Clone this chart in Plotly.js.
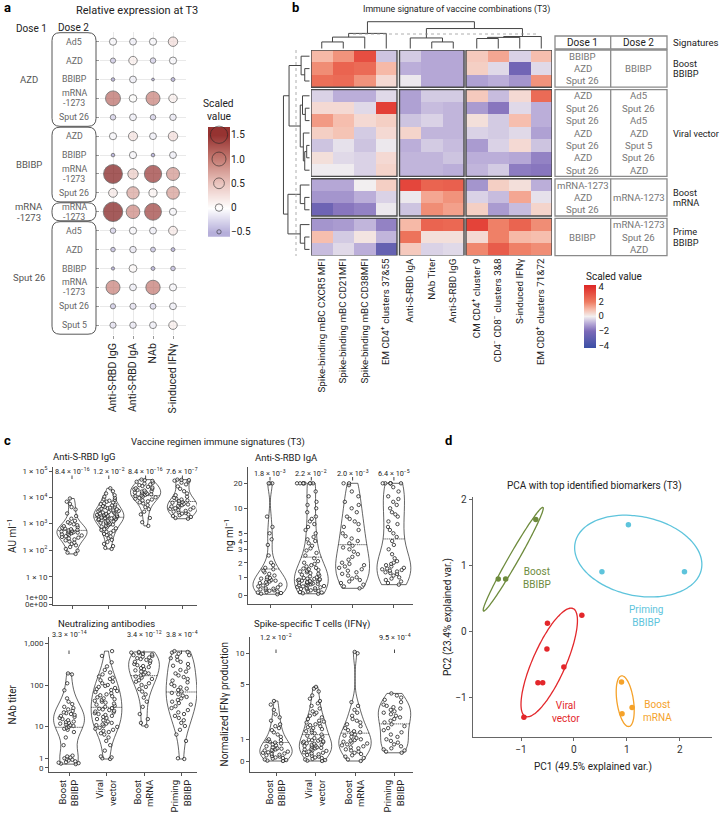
<!DOCTYPE html>
<html>
<head>
<meta charset="utf-8">
<script src="https://cdn.plot.ly/plotly-3.0.1.min.js"></script>
<style>body{margin:0;background:#fff}#fig{width:721px;height:814px}</style>
</head>
<body>
<div id="fig"></div>
<script>
var W = 721, H = 814;
var FONT = 'Roboto, Arial, sans-serif';

// ---------- panel a data ----------
var dotCols = ['Anti-S-RBD IgG', 'Anti-S-RBD IgA', 'NAb', 'S-induced IFNγ'];
var dose1Names = ['AZD', 'BBIBP', 'mRNA<br>-1273', 'Sput 26'];
var dose1Counts = [5, 4, 1, 6];
var dose2Names = ['Ad5', 'AZD', 'BBIBP', 'mRNA<br>-1273', 'Sput 26',
  'AZD', 'BBIBP', 'mRNA<br>-1273', 'Sput 26',
  'mRNA<br>-1273',
  'Ad5', 'AZD', 'BBIBP', 'mRNA<br>-1273', 'Sput 26', 'Sput 5'];
var dotVals = [
  [-0.05, -0.1, -0.05, 0.3],
  [-0.35, 0.15, -0.3, -0.05],
  [-0.6, -0.1, -0.75, -0.55],
  [1.15, 0.02, 1.0, 0.15],
  [-0.3, -0.1, -0.3, -0.15],
  [-0.05, 0.25, -0.1, 0.3],
  [-0.6, -0.05, -0.6, -0.1],
  [1.75, 0.45, 1.5, 0.85],
  [0.2, 0.75, 0.1, 0.8],
  [1.85, 0.95, 1.45, -0.05],
  [-0.3, -0.05, -0.1, 0.2],
  [-0.45, -0.15, -0.4, -0.55],
  [-0.65, 0.05, -0.55, -0.45],
  [1.0, -0.1, 1.05, -0.05],
  [-0.35, -0.2, -0.25, -0.1],
  [-0.2, -0.15, -0.1, 0.15]
];
var dotLegendVals = [1.5, 1.0, 0.5, 0, -0.5];
var dotLegendText = ['1.5', '1.0', '0.5', '0', '−0.5'];

// ---------- panel b data ----------
var heatCols = ['Spike-binding mBC CXCR5 MFI', 'Spike-binding mBC CD21MFI', 'Spike-binding mBC CD38MFI',
  'EM CD4<sup>+</sup> clusters 37&amp;55', 'Anti-S-RBD IgA', 'NAb Titer', 'Anti-S-RBD IgG',
  'CM CD4<sup>+</sup> cluster 9', 'CD4<sup>−</sup> CD8<sup>−</sup> clusters 3&amp;8', 'S-induced IFNγ',
  'EM CD8<sup>+</sup> clusters 71&amp;72'];
var heatColGroups = [4, 3, 4];
var heatRowGroups = [3, 7, 3, 3];
var heatVals = [
  [1.0, 1.6, 3.2, -0.6, -0.5, -1.0, -1.0, 0.7, 1.3, -0.4, 0.9],
  [1.7, 2.6, 2.4, 1.0, -0.9, -1.0, -1.0, 0.6, -0.3, -2.4, -0.3],
  [2.3, 2.4, 1.6, 0.4, -0.1, -1.0, -1.0, -1.1, -0.9, -1.3, 1.6],
  [-0.4, -0.9, -0.9, -0.3, -1.1, -0.5, -0.5, 0.7, -0.7, 0.4, 2.4],
  [0.4, 0.4, -0.3, 3.6, -1.1, -0.7, -0.8, -1.2, -1.8, -0.3, -0.9],
  [1.5, 0.9, 0.4, 0.6, -0.6, -0.4, -0.8, 0.3, -0.5, 0.9, -0.9],
  [0.6, 0.8, -0.5, 0.4, 0.5, -0.8, -0.8, -0.4, -0.5, -0.3, -1.1],
  [-0.6, -0.2, -0.6, -0.1, -0.9, -0.5, -0.7, -1.2, -0.4, 0.4, -0.6],
  [0.3, -0.3, -0.4, 0.4, -0.8, -0.8, -0.6, -0.9, -0.9, -1.0, -1.6],
  [-0.05, -0.05, -0.4, 0.5, -0.8, -0.8, -0.9, -0.8, -0.5, -1.7, -1.8],
  [-1.0, -1.0, 0.0, 0.6, 3.4, 2.6, 2.7, -1.3, 0.6, 0.3, -0.9],
  [-1.3, -1.3, -0.9, -0.4, -0.1, 1.3, 1.6, -0.4, -0.7, 1.3, -0.2],
  [-2.5, -1.8, -1.6, -0.1, -0.6, 1.7, 1.4, 0.6, -1.2, -0.7, 0.5],
  [-1.3, -1.2, -0.8, -1.6, 1.0, 2.6, 2.5, 3.5, 1.9, 2.6, 1.7],
  [0.9, -0.5, 0.2, -0.8, 2.2, 0.3, 0.3, 0.4, 1.9, 1.0, 0.9],
  [-0.7, -0.3, -0.9, -2.8, 0.7, -0.4, -0.3, 1.8, 2.8, 1.9, 1.7]
];
// dendrogram merges: [nodeA, nodeB, height]; leaves first, merges numbered after
var colTree = [[0, 1, 0.23], [11, 2, 0.4], [12, 3, 0.53], [5, 6, 0.23], [4, 14, 0.37],
  [7, 8, 0.35], [16, 9, 0.39], [17, 10, 0.42], [15, 18, 0.7], [13, 19, 0.94]];
var rowTree = [[1, 2, 0.17], [0, 16, 0.3],
  [7, 8, 0.1], [18, 9, 0.17], [6, 19, 0.22], [4, 5, 0.15], [3, 21, 0.25], [22, 20, 0.33],
  [11, 12, 0.17], [10, 24, 0.33], [14, 15, 0.17], [13, 26, 0.33],
  [17, 23, 0.73], [25, 27, 0.77], [28, 29, 0.93]];
var tableDose1 = [['BBIBP', 'AZD', 'Sput 26'],
  ['AZD', 'Sput 26', 'Sput 26', 'AZD', 'Sput 26', 'AZD', 'Sput 26'],
  ['mRNA-1273', 'AZD', 'Sput 26'], ['BBIBP']];
var tableDose2 = [['BBIBP'], ['Ad5', 'Sput 26', 'Ad5', 'AZD', 'Sput 5', 'Sput 26', 'AZD'],
  ['mRNA-1273'], ['mRNA-1273', 'Sput 26', 'AZD']];
var signatures = ['Boost<br>BBIBP', 'Viral vector', 'Boost<br>mRNA', 'Prime<br>BBIBP'];

// ---------- panel c data ----------
var regimens = ['Boost<br>BBIBP', 'Viral<br>vector', 'Boost<br>mRNA', 'Priming<br>BBIBP'];

var iggBoostBBIBP = [9000, 6800, 5600, 4200, 3400, 2400, 1900, 1500, 1250, 1100, 1000, 920, 850, 780, 720, 680, 640, 600, 570, 545, 520, 500, 480, 465, 450, 430, 410, 390, 370, 350, 330, 310, 290, 270, 250, 230, 210, 190, 170, 150, 130, 110, 95, 80, 72];
var iggViral = [22000, 17000, 14000, 12000, 10500, 9500, 8600, 8000, 7400, 6800, 6300, 5900, 5500, 5200, 4900, 4600, 4400, 4200, 4000, 3800, 3600, 3450, 3300, 3150, 3000, 2900, 2800, 2700, 2600, 2500, 2400, 2300, 2200, 2150, 2100, 2000, 1950, 1900, 1850, 1800, 1750, 1700, 1650, 1600, 1550, 1500, 1450, 1400, 1350, 1300, 1250, 1200, 1150, 1100, 1050, 1000, 950, 900, 850, 800, 750, 700, 650, 600, 560, 520, 480, 440, 400, 360, 320, 280, 240, 200, 170, 140, 120, 110];
var iggBoostMRNA = [47000, 45000, 42000, 39000, 36000, 33000, 31000, 29000, 27000, 25000, 23500, 22000, 21000, 20000, 19000, 18000, 17200, 16500, 15800, 15000, 14300, 13600, 13000, 12400, 11800, 11200, 10600, 10000, 9400, 8800, 8200, 7600, 7000, 6400, 5800, 5000, 4200, 3500, 2800, 2200, 1600, 1100, 800];
var iggPriming = [47000, 46000, 45000, 43000, 40000, 36000, 31000, 26000, 21000, 17000, 14000, 12000, 10500, 9500, 8800, 8200, 7600, 7100, 6600, 6200, 5900, 5600, 5300, 5000, 4700, 4400, 4200, 4000, 3800, 3600, 3400, 3200, 3000, 2800, 2650, 2500, 2350, 2200, 2050, 1900, 1750, 1600, 1500];
var iggP = ['8.4 × 10<sup>−16</sup>', '1.2 × 10<sup>−2</sup>', '8.4 × 10<sup>−16</sup>', '7.6 × 10<sup>−7</sup>'];

var igaBoostBBIBP = [20, 20, 20, 8, 6, 5, 4.2, 3.5, 2.5, 2.0, 1.8, 1.6, 1.5, 1.4, 1.3, 1.2, 1.1, 1.0, 0.95, 0.9, 0.85, 0.8, 0.75, 0.7, 0.65, 0.6, 0.55, 0.5, 0.45, 0.4, 0.35, 0.3, 0.28, 0.25, 0.22, 0.2, 0.18, 0.15, 0.12, 0.1, 0.08, 0.05, 0.03];
var igaViral = [20, 20, 20, 20, 20, 20, 20, 20, 16, 14, 12, 11, 10, 9, 8, 7.5, 7, 6.5, 6, 5.5, 5, 4.5, 4.2, 4, 3.7, 3.4, 3.1, 2.9, 2.7, 2.5, 2.3, 2.1, 2.0, 1.9, 1.8, 1.7, 1.6, 1.55, 1.5, 1.45, 1.4, 1.35, 1.3, 1.25, 1.2, 1.15, 1.1, 1.05, 1.0, 0.95, 0.9, 0.88, 0.85, 0.82, 0.8, 0.77, 0.75, 0.72, 0.7, 0.67, 0.65, 0.62, 0.6, 0.57, 0.55, 0.52, 0.5, 0.47, 0.45, 0.42, 0.4, 0.37, 0.35, 0.32, 0.3, 0.27, 0.25, 0.22, 0.2, 0.17, 0.15, 0.12, 0.1, 0.07, 0.05];
var igaBoostMRNA = [20, 20, 19, 16, 14, 12, 11, 10, 9, 8, 7.5, 7, 6.5, 6, 5.5, 5, 4.6, 4.3, 4, 3.7, 3.4, 3.2, 3.0, 2.8, 2.6, 2.4, 2.2, 2.0, 1.9, 1.8, 1.7, 1.6, 1.5, 1.4, 1.3, 1.2, 1.1, 1.0, 0.9, 0.8, 0.7, 0.6, 0.5, 0.4, 0.3];
var igaPriming = [20, 20, 20, 20, 20, 20, 18, 16, 14, 13, 12, 11, 10, 9, 8.5, 8, 7, 6.5, 6, 5.5, 5, 4.5, 4, 3.5, 3, 2.6, 2.3, 2.1, 2.0, 1.9, 1.8, 1.7, 1.6, 1.55, 1.5, 1.45, 1.4, 1.35, 1.3, 1.25, 1.2, 1.1, 1.0, 0.9, 0.8, 0.7, 0.6, 0.5];
var igaP = ['1.8 × 10<sup>−3</sup>', '2.2 × 10<sup>−2</sup>', '2.0 × 10<sup>−3</sup>', '6.4 × 10<sup>−5</sup>'];

var nabBoostBBIBP = [190, 180, 110, 75, 48, 40, 35, 30, 28, 26, 24, 22, 21, 20, 19, 18, 17, 16, 15, 14, 13, 12.5, 12, 11.5, 11, 10.5, 10, 9.5, 9, 8.5, 8, 7, 5, 3, 1.3, 1.2, 1.1, 1.0, 0.9, 0.8, 0.7, 0.6, 0.5, 0.45, 0.4, 0.35, 0.3];
var nabViral = [650, 500, 350, 280, 230, 200, 180, 160, 150, 140, 130, 120, 110, 100, 95, 90, 85, 80, 76, 72, 68, 64, 60, 57, 54, 51, 48, 46, 44, 42, 40, 38, 36, 34, 32, 30, 28, 27, 26, 25, 24, 23, 22, 21, 20, 19, 18, 17, 16, 15, 14, 13, 12, 11.5, 11, 10.5, 10, 9.5, 9, 8.5, 8, 7.5, 7, 6.5, 6, 5, 4, 3, 2, 1.2, 1.1, 1.0, 0.9];
var nabBoostMRNA = [620, 600, 580, 560, 540, 520, 500, 480, 460, 440, 420, 400, 380, 360, 340, 320, 300, 285, 270, 255, 240, 225, 210, 200, 190, 180, 170, 160, 150, 140, 130, 120, 110, 100, 90, 80, 70, 60, 50, 40, 30, 20, 15, 12, 10];
var nabPriming = [650, 620, 600, 560, 520, 480, 440, 400, 360, 320, 290, 260, 230, 210, 190, 170, 155, 140, 128, 116, 105, 95, 88, 82, 76, 70, 65, 60, 56, 52, 48, 44, 40, 37, 34, 31, 28, 25, 22, 20, 18, 16, 14, 12, 10, 8, 6, 4, 1, 0.9];
var nabP = ['3.3 × 10<sup>−14</sup>', null, '3.4 × 10<sup>−12</sup>', '3.8 × 10<sup>−4</sup>'];

var ifnBoostBBIBP = [3.3, 3.0, 2.6, 2.3, 2.1, 1.9, 1.7, 1.6, 1.5, 1.4, 1.3, 1.2, 1.1, 1.0, 0.95, 0.9, 0.85, 0.8, 0.75, 0.7, 0.65, 0.6, 0.55, 0.5, 0.48, 0.45, 0.42, 0.4, 0.37, 0.35, 0.32, 0.3, 0.27, 0.25, 0.22, 0.2, 0.17, 0.15, 0.12, 0.1, 0.08, 0.05, 0.03, 0.01, 0];
var ifnViral = [4.7, 4.5, 4.2, 3.8, 3.5, 3.3, 3.1, 2.9, 2.7, 2.5, 2.4, 2.3, 2.2, 2.1, 2.0, 1.9, 1.85, 1.8, 1.75, 1.7, 1.65, 1.6, 1.55, 1.5, 1.45, 1.4, 1.35, 1.3, 1.25, 1.2, 1.15, 1.1, 1.05, 1.0, 0.97, 0.94, 0.91, 0.88, 0.85, 0.82, 0.79, 0.76, 0.73, 0.7, 0.67, 0.64, 0.61, 0.58, 0.55, 0.52, 0.5, 0.47, 0.44, 0.41, 0.38, 0.35, 0.32, 0.3, 0.27, 0.24, 0.21, 0.18, 0.15, 0.12, 0.1, 0.07, 0.05, 0.03, 0.01, 0];
var ifnBoostMRNA = [10.3, 10.0, 3.2, 2.9, 2.6, 2.4, 2.2, 2.0, 1.9, 1.8, 1.7, 1.6, 1.5, 1.4, 1.35, 1.3, 1.25, 1.2, 1.15, 1.1, 1.05, 1.0, 0.95, 0.9, 0.85, 0.8, 0.75, 0.7, 0.65, 0.6, 0.55, 0.5, 0.45, 0.4, 0.35, 0.3, 0.25, 0.2, 0.15, 0.1, 0.05, 0];
var ifnPriming = [4.0, 3.8, 3.6, 3.4, 3.2, 3.0, 2.9, 2.8, 2.7, 2.6, 2.5, 2.4, 2.3, 2.2, 2.1, 2.0, 1.9, 1.8, 1.7, 1.6, 1.5, 1.4, 1.3, 1.2, 1.1, 1.0, 0.9, 0.8, 0.7, 0.6, 0.5, 0.45, 0.4, 0.35, 0.3];
var ifnP = ['1.2 × 10<sup>−2</sup>', null, null, '9.5 × 10<sup>−4</sup>'];

// ---------- panel d data ----------
var pcaNames = ['Boost<br>BBIBP', 'Priming<br>BBIBP', 'Viral<br>vector', 'Boost<br>mRNA'];
var pcaColors = ['#6e8b3d', '#5ec4dc', '#e3272b', '#f5a22a'];
var pc1BoostBBIBP = [-1.43, -1.29, -0.72];
var pc2BoostBBIBP = [0.79, 0.79, 1.69];
var pc1Priming = [1.03, 0.53, 2.09];
var pc2Priming = [1.61, 0.90, 0.90];
var pc1Viral = [-0.50, 0.15, -0.51, -0.19, -0.68, -0.59, -0.945];
var pc2Viral = [0.12, 0.24, -0.27, -0.54, -0.78, -0.78, -1.30];
var pc1BoostMRNA = [0.90, 0.91, 1.10];
var pc2BoostMRNA = [-0.77, -1.25, -1.155];

// ================= helpers =================
function fx(p) { return p / W; }
function fy(p) { return 1 - p / H; }
var shapes = [], annotations = [], traces = [];

function A(text, x, y, o) {
  o = o || {};
  var a = {
    text: text, x: fx(x), y: fy(y), xref: 'paper', yref: 'paper', showarrow: false,
    xanchor: o.xanchor || 'center', yanchor: o.yanchor || 'middle',
    font: { family: FONT, size: o.size || 9, color: o.color || '#222' }
  };
  if (o.textangle !== undefined) a.textangle = o.textangle;
  annotations.push(a);
}
// multi-line label with tight line spacing
function A2(text, x, y, gap, o) {
  var parts = text.split('<br>');
  parts.forEach(function (t, k) { A(t, x, y + (k - (parts.length - 1) / 2) * gap, o); });
}
function L(x0, y0, x1, y1, color, width, dash) {
  shapes.push({ type: 'line', xref: 'paper', yref: 'paper', x0: fx(x0), y0: fy(y0), x1: fx(x1), y1: fy(y1),
    line: { color: color || '#444', width: width || 1, dash: dash || 'solid' } });
}
function roundBox(x0, y0, x1, y1, r) {
  var p = function (x, y) { return fx(x) + ',' + fy(y); };
  var d = 'M' + p(x0 + r, y0) + ' L' + p(x1 - r, y0) + ' Q' + p(x1, y0) + ' ' + p(x1, y0 + r) +
    ' L' + p(x1, y1 - r) + ' Q' + p(x1, y1) + ' ' + p(x1 - r, y1) +
    ' L' + p(x0 + r, y1) + ' Q' + p(x0, y1) + ' ' + p(x0, y1 - r) +
    ' L' + p(x0, y0 + r) + ' Q' + p(x0, y0) + ' ' + p(x0 + r, y0) + ' Z';
  shapes.push({ type: 'path', xref: 'paper', yref: 'paper', path: d, line: { color: '#444', width: 0.9 } });
}

var layout = {
  width: W, height: H, margin: { l: 0, r: 0, t: 0, b: 0, autoexpand: false },
  paper_bgcolor: '#fff', plot_bgcolor: 'rgba(0,0,0,0)', showlegend: false,
  font: { family: FONT, size: 9, color: '#222' }, violinmode: 'overlay'
};

// panel letters & titles
A('<b>a</b>', 2, 8, { xanchor: 'left', size: 13, color: '#000' });
A('<b>b</b>', 290, 8, { xanchor: 'left', size: 13, color: '#000' });
A('<b>c</b>', 2, 441, { xanchor: 'left', size: 13, color: '#000' });
A('<b>d</b>', 443, 441, { xanchor: 'left', size: 13, color: '#000' });
A('Relative expression at T3', 137, 10, { size: 11 });
A('Immune signature of vaccine combinations (T3)', 456, 9, { size: 8.8 });
A('Vaccine regimen immune signatures (T3)', 218, 442, { size: 9.5 });
A('PCA with top identified biomarkers (T3)', 594, 486, { size: 10 });

// ================= panel a =================
var dotScale = [[0, '#a79fd3'], [0.265, '#ffffff'], [0.49, '#e9c3bd'], [0.71, '#c57b73'], [0.93, '#963331'], [1, '#7e1716']];
function dotSize(v) { return Math.max(2.8, 7.5 + 6.5 * v); }
function rowPx(i) { return 41.7 + 18.9 * i; }

var dX = [], dY = [], dV = [];
dotVals.forEach(function (row, i) {
  row.forEach(function (v, j) { dX.push(j + 1); dY.push(i); dV.push(v); });
});
traces.push({
  type: 'scatter', mode: 'markers', x: dX, y: dY, xaxis: 'x', yaxis: 'y', cliponaxis: false, hoverinfo: 'skip',
  marker: {
    size: dV.map(dotSize), color: dV, cmin: -0.6, cmax: 1.66, colorscale: dotScale,
    line: { color: '#333', width: 0.8 }, showscale: false
  }
});
// colour bar drawn as a smooth heatmap so the size key can sit on top of it
traces.push({
  type: 'heatmap', z: dotLegendVals.map(function (v) { return [v, v]; }), y: dotLegendVals, x: [0, 1],
  xaxis: 'x8', yaxis: 'y8', zsmooth: 'best', zmin: -0.6, zmax: 1.66, colorscale: dotScale,
  showscale: false, hoverinfo: 'skip'
});
traces.push({
  type: 'scatter', mode: 'markers', x: dotLegendVals.map(function () { return 0.5; }), y: dotLegendVals,
  xaxis: 'x8', yaxis: 'y8', cliponaxis: false, hoverinfo: 'skip',
  marker: { size: dotLegendVals.map(dotSize), color: 'rgba(0,0,0,0)', line: { color: '#222', width: 0.8 } }
});
layout.xaxis = {
  domain: [fx(100), fx(186)], range: [0.35, 4.65], anchor: 'y', tickvals: [1, 2, 3, 4], ticktext: dotCols,
  tickangle: -90, ticks: 'outside', ticklen: 3, tickcolor: '#999', tickfont: { size: 10.5, color: '#222' },
  showgrid: true, gridcolor: '#e9e9e9', zeroline: false, showline: false
};
layout.yaxis = {
  domain: [fy(335), fy(32)], range: [15.52, -0.513], anchor: 'x',
  tickvals: dose2Names.map(function (n, i) { return i; }), showticklabels: false,
  ticks: 'outside', ticklen: 3, tickcolor: '#999', showgrid: true, gridcolor: '#e9e9e9', zeroline: false
};
layout.xaxis8 = { domain: [fx(208), fx(230)], range: [0, 1], anchor: 'y8', visible: false };
layout.yaxis8 = {
  domain: [fy(236.7), fy(127)], range: [-0.6, 1.66], anchor: 'x8', side: 'right',
  tickvals: dotLegendVals, ticktext: dotLegendText, ticks: '', showline: false, showgrid: false, zeroline: false,
  tickfont: { size: 10, color: '#222' }
};
A2('Scaled<br>value', 219, 110, 13, { size: 10.2 });
A('Dose 1', 31, 29, { size: 10, color: '#222' });
A('Dose 2', 73, 27, { size: 10, color: '#222' });
dose2Names.forEach(function (n, i) { A2(n, 74, rowPx(i), 10, { size: 8.8, color: '#666' }); });
var r0 = 0;
dose1Names.forEach(function (n, g) {
  var r1 = r0 + dose1Counts[g] - 1;
  roundBox(52, rowPx(r0) - 9, 96, rowPx(r1) + 9, 8);
  A2(n, 29, (rowPx(r0) + rowPx(r1)) / 2, 11, { size: 9.5, color: '#555' });
  r0 = r1 + 1;
});

// ================= panel b =================
var heatScale = [[0, '#3b4fa5'], [0.267, '#7c6ab8'], [0.384, '#b5a7d6'], [0.5, '#f2eff0'],
  [0.616, '#f6b9a7'], [0.733, '#ee7a60'], [0.965, '#e0302c'], [1, '#dd2626']];
var colStarts = [311, 399.5, 466], colW = 21.5;
var rowStarts = [50, 89.6, 178.8, 218.4], rowH = 12.4;
var colCenters = [], rowCenters = [];
heatColGroups.forEach(function (n, g) { for (var j = 0; j < n; j++) colCenters.push(colStarts[g] + colW * (j + 0.5)); });
heatRowGroups.forEach(function (n, g) { for (var j = 0; j < n; j++) rowCenters.push(rowStarts[g] + rowH * (j + 0.5)); });

var rOff = 0;
heatRowGroups.forEach(function (nr, rg) {
  var cOff = 0;
  heatColGroups.forEach(function (nc, cg) {
    var z = heatVals.slice(rOff, rOff + nr).map(function (r) { return r.slice(cOff, cOff + nc); });
    var first = (rg === 0 && cg === 0);
    traces.push({
      type: 'heatmap', z: z, x0: colStarts[cg] + colW / 2, dx: colW, y0: rowStarts[rg] + rowH / 2, dy: rowH,
      xaxis: 'x2', yaxis: 'y2', zmin: -4.3, zmax: 4.3, colorscale: heatScale, hoverinfo: 'skip',
      showscale: first,
      colorbar: first ? {
        x: fx(584), xanchor: 'left', y: fy(284.5), yanchor: 'top', len: 62.7, lenmode: 'pixels',
        thickness: 12, outlinewidth: 0, xpad: 0, ypad: 0, ticks: '',
        tickvals: [-4, -2, 0, 2, 4], ticktext: ['−4', '−2', '0', '2', '4'],
        tickfont: { family: FONT, size: 9.5, color: '#222' }
      } : undefined
    });
    shapes.push({ type: 'rect', xref: 'x2', yref: 'y2', x0: colStarts[cg], x1: colStarts[cg] + nc * colW,
      y0: rowStarts[rg], y1: rowStarts[rg] + nr * rowH, line: { color: '#4a4a4a', width: 1.4 } });
    cOff += nc;
  });
  rOff += nr;
});
layout.xaxis2 = {
  domain: [fx(311), fx(552)], range: [311, 552], anchor: 'y2', tickvals: colCenters, ticktext: heatCols,
  tickangle: -90, ticks: '', showgrid: false, zeroline: false, showline: false,
  tickfont: { size: 9.8, color: '#222' }
};
layout.yaxis2 = { domain: [fy(255.6), fy(50)], range: [255.6, 50], anchor: 'x2', visible: false };
A('Scaled value', 584, 277, { xanchor: 'left', size: 10 });

// dendrograms
function treeNodes(merges, leaves) {
  var pos = leaves.slice(), hgt = leaves.map(function () { return 0; });
  merges.forEach(function (m) { pos.push((pos[m[0]] + pos[m[1]]) / 2); hgt.push(m[2]); });
  return { pos: pos, hgt: hgt };
}
var ct = treeNodes(colTree, colCenters);
colTree.forEach(function (m) {
  var yM = 48.5 - m[2] * 28.5;
  [m[0], m[1]].forEach(function (c) {
    shapes.push({ type: 'line', xref: 'x2', yref: 'paper', x0: ct.pos[c], x1: ct.pos[c],
      y0: fy(48.5 - ct.hgt[c] * 28.5), y1: fy(yM), line: { color: '#444', width: 1 } });
  });
  shapes.push({ type: 'line', xref: 'x2', yref: 'paper', x0: ct.pos[m[0]], x1: ct.pos[m[1]],
    y0: fy(yM), y1: fy(yM), line: { color: '#444', width: 1 } });
});
var rt = treeNodes(rowTree, rowCenters);
rowTree.forEach(function (m) {
  var xM = 309.5 - m[2] * 28;
  [m[0], m[1]].forEach(function (c) {
    shapes.push({ type: 'line', xref: 'paper', yref: 'y2', y0: rt.pos[c], y1: rt.pos[c],
      x0: fx(309.5 - rt.hgt[c] * 28), x1: fx(xM), line: { color: '#444', width: 1 } });
  });
  shapes.push({ type: 'line', xref: 'paper', yref: 'y2', y0: rt.pos[m[0]], y1: rt.pos[m[1]],
    x0: fx(xM), x1: fx(xM), line: { color: '#444', width: 1 } });
});
L(353, 34, 537, 34, '#999', 0.8, 'dot');
L(296, 50, 296, 256, '#999', 0.8, 'dot');

// table
var tX0 = 555, tXm = 610.7, tX1 = 667;
shapes.push({ type: 'rect', xref: 'paper', yref: 'paper', x0: fx(tX0), x1: fx(tX1), y0: fy(36), y1: fy(49),
  line: { color: '#8a8a8a', width: 1.3 } });
L(tXm, 36, tXm, 49, '#8a8a8a', 1.3);
A('Dose 1', (tX0 + tXm) / 2, 42.8, { size: 10 });
A('Dose 2', (tXm + tX1) / 2, 42.8, { size: 10 });
A('Signatures', 671, 42.8, { xanchor: 'left', size: 9.6 });
heatRowGroups.forEach(function (nr, g) {
  var y0 = rowStarts[g], y1 = rowStarts[g] + nr * rowH, yc = (y0 + y1) / 2;
  shapes.push({ type: 'rect', xref: 'paper', yref: 'paper', x0: fx(tX0), x1: fx(tX1), y0: fy(y0), y1: fy(y1),
    line: { color: '#8a8a8a', width: 1.3 } });
  L(tXm, y0, tXm, y1, '#8a8a8a', 1.3);
  [[tableDose1[g], (tX0 + tXm) / 2], [tableDose2[g], (tXm + tX1) / 2]].forEach(function (c) {
    var lines = c[0], n = lines.length, step = Math.min(rowH, (y1 - y0) / n);
    lines.forEach(function (t, k) { A(t, c[1], yc + (k - (n - 1) / 2) * step, { size: 9.6, color: '#777' }); });
  });
  A2(signatures[g], 671, yc, 10.5, { xanchor: 'left', size: 9.2 });
});

// ================= panel c =================
function makeScale(vals, pxs, bottom) {
  var us = vals.map(function (v) { return Math.log10(v + 1); });
  return function (v) {
    var u = Math.log10(v + 1), i = 0;
    while (i < us.length - 2 && u > us[i + 1]) i++;
    var t = (u - us[i]) / (us[i + 1] - us[i]);
    return bottom - (pxs[i] + t * (pxs[i + 1] - pxs[i]));
  };
}
var cPanels = [
  { n: 3, groups: [iggBoostBBIBP, iggViral, iggBoostMRNA, iggPriming], p: iggP,
    tickVals: [0, 1, 10, 100, 1e3, 1e4, 1e5], tickPx: [604.4, 597.3, 576.7, 550, 523.3, 497.3, 471],
    tickText: ['0e+00', '1e+00', '1 × 10', '1 × 10<sup>2</sup>', '1 × 10<sup>3</sup>', '1 × 10<sup>4</sup>', '1 × 10<sup>5</sup>'],
    left: 53, right: 197, top: 467, bottom: 605, c0: 72, step: 36.8, pY: 471, tick: [475.5, 479], labels: false,
    title: 'Anti-S-RBD IgG', tX: 51, tY: 456.5, yTitle: 'AU ml<sup>−1</sup>', yX: 12 },
  { n: 4, groups: [igaBoostBBIBP, igaViral, igaBoostMRNA, igaPriming], p: igaP,
    tickVals: [0, 1, 2, 3, 4, 5, 10, 20], tickPx: [595, 577.3, 562.7, 549.3, 541, 533.3, 508.3, 483.3],
    tickText: ['0', '1', '2', '3', '4', '5', '10', '20'],
    left: 248, right: 413, top: 467, bottom: 604, c0: 270, step: 41.3, pY: 472.5, tick: [477, 480.5], labels: false,
    title: 'Anti-S-RBD IgA', tX: 253, tY: 457, yTitle: 'ng ml<sup>−1</sup>', yX: 228 },
  { n: 5, groups: [nabBoostBBIBP, nabViral, nabBoostMRNA, nabPriming], p: nabP,
    tickVals: [0, 1, 10, 100, 1000], tickPx: [767.7, 758.3, 726, 685, 643.3],
    tickText: ['0', '1', '10', '100', '1,000'],
    left: 49, right: 197, top: 637, bottom: 772, c0: 69, step: 37.5, pY: 640.5, tick: [650.5, 654], labels: true,
    title: 'Neutralizing antibodies', tX: 56, tY: 623.5, yTitle: 'NAb titer', yX: 12 },
  { n: 6, groups: [ifnBoostBBIBP, ifnViral, ifnBoostMRNA, ifnPriming], p: ifnP,
    tickVals: [0, 1, 5, 10], tickPx: [761, 739.3, 684.3, 653.3],
    tickText: ['0', '1', '5', '10'],
    left: 250, right: 413, top: 637, bottom: 772, c0: 276, step: 39.5, pY: 643.5, tick: [649.5, 653], labels: true,
    title: 'Spike-specific T cells (IFNγ)', tX: 252, tY: 623.5, yTitle: 'Normalized IFNγ production', yX: 224 }
];
cPanels.forEach(function (c) {
  var sc = makeScale(c.tickVals, c.tickPx, c.bottom);
  var xa = 'x' + c.n, ya = 'y' + c.n;
  c.groups.forEach(function (vals, i) {
    traces.push({
      type: 'violin', x0: i, y: vals.map(sc), xaxis: xa, yaxis: ya, name: 'g' + c.n + '_' + i,
      points: 'all', pointpos: 0, jitter: 0.85, spanmode: 'hard', width: 0.82, scalemode: 'width',
      line: { color: '#222', width: 0.7 }, fillcolor: 'rgba(0,0,0,0)',
      meanline: { visible: true, color: '#222', width: 0.7 }, box: { visible: false },
      marker: { size: 3.4, color: 'rgba(255,255,255,0.6)', line: { color: '#222', width: 0.8 } },
      hoverinfo: 'skip'
    });
    if (c.p[i]) {
      annotations.push({ text: c.p[i], xref: xa, x: i, yref: 'paper', y: fy(c.pY), showarrow: false,
        font: { family: FONT, size: 7.3, color: '#222' } });
      shapes.push({ type: 'line', xref: xa, yref: 'paper', x0: i, x1: i, y0: fy(c.tick[0]), y1: fy(c.tick[1]),
        line: { color: '#333', width: 0.9 } });
    }
  });
  layout['xaxis' + c.n] = {
    domain: [fx(c.left), fx(c.right)], type: 'linear', anchor: ya,
    range: [(c.left - c.c0) / c.step, (c.right - c.c0) / c.step],
    tickvals: [0, 1, 2, 3], ticktext: regimens, showticklabels: c.labels, tickangle: -90,
    ticks: 'outside', ticklen: 3, tickcolor: '#555', showline: true, linecolor: '#555', linewidth: 1,
    showgrid: false, zeroline: false, tickfont: { size: 9.5, color: '#222' }
  };
  layout['yaxis' + c.n] = {
    domain: [fy(c.bottom), fy(c.top)], anchor: xa, range: [0, c.bottom - c.top],
    tickvals: c.tickPx.map(function (p) { return c.bottom - p; }), ticktext: c.tickText,
    ticks: 'outside', ticklen: 3, tickcolor: '#555', showline: true, linecolor: '#555', linewidth: 1,
    showgrid: false, zeroline: false, tickfont: { size: 8, color: '#333' }
  };
  A(c.title, c.tX, c.tY, { xanchor: 'left', size: 9.5 });
  A(c.yTitle, c.yX, (c.top + c.bottom) / 2, { textangle: -90, size: 10 });
});

// ================= panel d =================
var pcaX = [pc1BoostBBIBP, pc1Priming, pc1Viral, pc1BoostMRNA];
var pcaY = [pc2BoostBBIBP, pc2Priming, pc2Viral, pc2BoostMRNA];
var pcaLabelPos = [[-0.7, 0.81], [1.36, 0.23], [-0.14, -1.22], [1.58, -1.2]];
var ellK = Math.sqrt(-2 * Math.log(1 - 0.68));
pcaX.forEach(function (xs, g) {
  var ys = pcaY[g], n = xs.length;
  var mx = xs.reduce(function (a, b) { return a + b; }, 0) / n;
  var my = ys.reduce(function (a, b) { return a + b; }, 0) / n;
  var sxx = 0, syy = 0, sxy = 0;
  for (var i = 0; i < n; i++) {
    sxx += (xs[i] - mx) * (xs[i] - mx); syy += (ys[i] - my) * (ys[i] - my); sxy += (xs[i] - mx) * (ys[i] - my);
  }
  sxx /= n - 1; syy /= n - 1; sxy /= n - 1;
  var l11 = Math.sqrt(sxx), l21 = sxy / l11, l22 = Math.sqrt(Math.max(syy - l21 * l21, 1e-6));
  var ex = [], ey = [];
  for (var k = 0; k <= 100; k++) {
    var t = 2 * Math.PI * k / 100;
    ex.push(mx + ellK * l11 * Math.cos(t));
    ey.push(my + ellK * (l21 * Math.cos(t) + l22 * Math.sin(t)));
  }
  traces.push({ type: 'scatter', mode: 'lines', x: ex, y: ey, xaxis: 'x7', yaxis: 'y7', hoverinfo: 'skip',
    line: { color: pcaColors[g], width: 1.3, shape: 'spline' } });
  traces.push({ type: 'scatter', mode: 'markers', x: xs, y: ys, xaxis: 'x7', yaxis: 'y7', hoverinfo: 'skip',
    marker: { color: pcaColors[g], size: 5.5 } });
  annotations.push({ text: pcaNames[g], xref: 'x7', yref: 'y7', x: pcaLabelPos[g][0], y: pcaLabelPos[g][1],
    showarrow: false, font: { family: FONT, size: 10, color: pcaColors[g] } });
});
layout.xaxis7 = {
  domain: [fx(472.7), fx(711.7)], range: [-1.913, 2.605], anchor: 'y7', tickvals: [-1, 0, 1, 2],
  ticks: 'outside', ticklen: 3, tickcolor: '#666', showline: true, linecolor: '#666', linewidth: 1,
  showgrid: false, zeroline: false, tickfont: { size: 10, color: '#333' }
};
layout.yaxis7 = {
  domain: [fy(736.7), fy(496.7)], range: [-1.596, 2.035], anchor: 'x7', tickvals: [-1, 0, 1, 2],
  ticks: 'outside', ticklen: 3, tickcolor: '#666', showline: true, linecolor: '#666', linewidth: 1,
  showgrid: false, zeroline: false, tickfont: { size: 10, color: '#333' }
};
A('PC1 (49.5% explained var.)', 593, 767, { size: 10 });
A('PC2 (23.4% explained var.)', 448, 617, { textangle: -90, size: 10 });

layout.shapes = shapes;
layout.annotations = annotations;
Plotly.newPlot('fig', traces, layout, { staticPlot: true });
</script>
</body>
</html>
